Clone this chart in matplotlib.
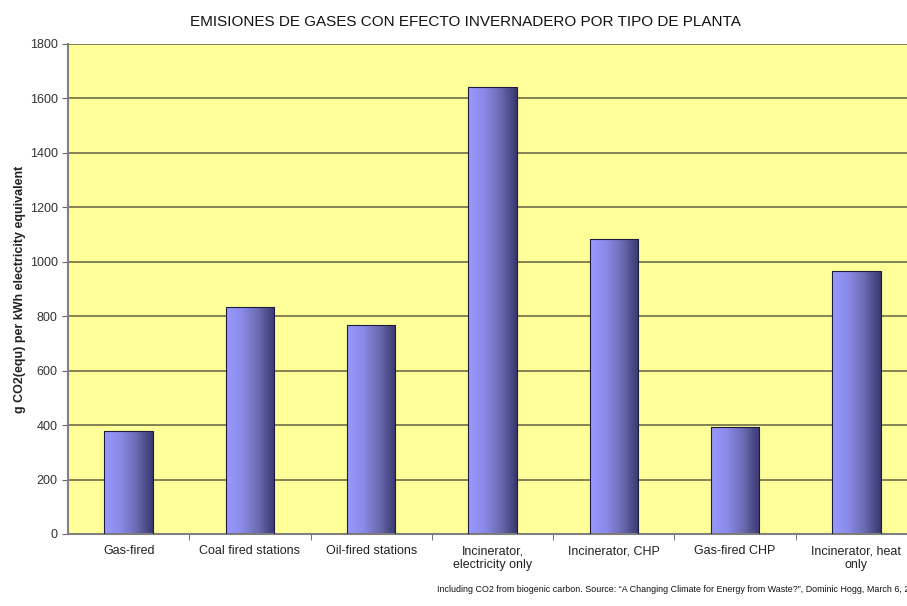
import matplotlib
matplotlib.use("Agg")
import matplotlib.pyplot as plt
import numpy as np
from matplotlib.colors import LinearSegmentedColormap

# Datos
plantas = ["Gas-fired", "Coal fired stations", "Oil-fired stations",
           "Incinerator,\nelectricity only", "Incinerator, CHP",
           "Gas-fired CHP", "Incinerator, heat\nonly"]
emisiones = [378, 834, 768, 1642, 1084, 393, 966]

titulo = "EMISIONES DE GASES CON EFECTO INVERNADERO POR TIPO DE PLANTA"
etiqueta_y = "g CO2(equ) per kWh electricity equivalent"
nota = ("Including CO2 from biogenic carbon. Source: \u201cA Changing Climate for "
        "Energy from Waste?\u201d, Dominic Hogg, March 6, 2006")

plt.rcParams['font.family'] = ['Liberation Sans', 'DejaVu Sans']

fig = plt.figure(figsize=(9.07, 6.06), dpi=100)
ax = fig.add_axes([68 / 907, 72 / 606, 849 / 907, 490 / 606])
ax.set_facecolor("#FFFF99")

x = np.arange(len(plantas))
ancho = 0.4
barras = ax.bar(x, emisiones, ancho, color="none", edgecolor="#1c1c40",
                linewidth=0.8, zorder=3)

# Degradado horizontal en cada barra
cmap = LinearSegmentedColormap.from_list(
    "azul", ["#9a9aff", "#8a8ae8", "#6a6ab0", "#383870"])
grad = np.linspace(0, 1, 256).reshape(1, -1)
for b in barras:
    x0, w, h = b.get_x(), b.get_width(), b.get_height()
    im = ax.imshow(grad, cmap=cmap, aspect="auto", extent=[x0, x0 + w, 0, h],
                   zorder=2.5)
    im.set_clip_path(b)

ax.set_xlim(-0.5, len(plantas) - 0.5)
ax.set_ylim(0, 1800)
ax.set_yticks(np.arange(0, 1801, 200))
ax.yaxis.grid(True, color="#6e6e48", linewidth=1.2, zorder=1)
ax.set_axisbelow(True)

ax.set_xticks(x)
ax.set_xticklabels(plantas, fontsize=9, color="#222222")
ax.tick_params(axis="x", length=0, pad=8)
ax.set_xticks(np.arange(0.5, len(plantas) - 0.5, 1), minor=True)
ax.tick_params(axis="x", which="minor", length=4, color="#555555")
ax.tick_params(axis="y", labelsize=9, labelcolor="#333333", color="#666666",
               length=4)

for lado in ["top", "right"]:
    ax.spines[lado].set_visible(False)
ax.spines["left"].set_color("#808080")
ax.spines["bottom"].set_color("#808080")
ax.spines["left"].set_linewidth(1.5)
ax.spines["bottom"].set_linewidth(1.5)

ax.set_ylabel(etiqueta_y, fontsize=9, fontweight="bold", color="#222222")
ax.yaxis.set_label_coords(-(68 - 26) / 849, 0.5)

fig.text(465 / 907, 1 - 22 / 606, titulo, ha="center", va="center",
         fontsize=11, color="#111111")
fig.text(437 / 907, 1 - 590 / 606, nota, ha="left", va="center",
         fontsize=6.4, color="#111111")

plt.savefig("out.png", dpi=100)
